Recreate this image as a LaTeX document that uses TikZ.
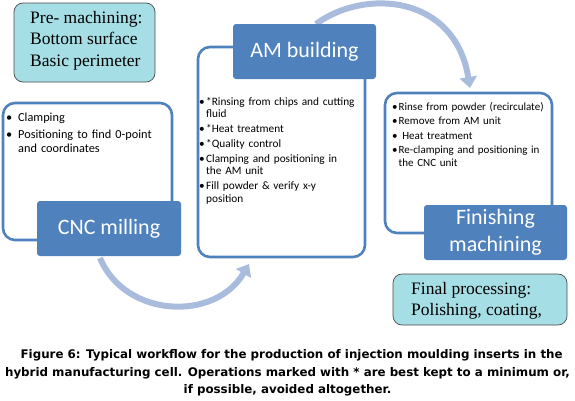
\documentclass[tikz,border=0pt]{standalone}
\usepackage{fontspec}
\setmainfont{Carlito}
\newfontfamily\timesf{Liberation Serif}
\newfontfamily\capf{DejaVu Sans}
\usetikzlibrary{arrows.meta}
\definecolor{boxblue}{HTML}{4F81BD}
\definecolor{arrowblue}{HTML}{A9BCDE}
\definecolor{cyanfill}{HTML}{A6DEE6}
\definecolor{cyanline}{HTML}{4A4A4A}
\newcommand\bitem[2][0pt]{\par\hangindent=#1\hangafter=1\noindent\makebox[#1][l]{\textbullet}#2\par}
\newcommand\brk{\hfil\break}
\tikzset{
  frame/.style={draw=boxblue, line width=2.6pt, rounded corners=12pt, fill=white},
  stage/.style={fill=boxblue, rounded corners=3pt, text=white, font=\fontsize{22}{27}\selectfont, align=center, inner sep=0pt},
  note/.style={fill=cyanfill, draw=cyanline, line width=0.7pt, rounded corners=9pt},
  notetext/.style={font=\timesf\fontsize{17.5}{21.5}\selectfont, align=left, anchor=north west, inner sep=0pt},
  bullets/.style={anchor=north west, inner sep=0pt, text width=175pt, align=left},
  flow/.style={draw=arrowblue, line width=6pt, -{Triangle[length=11pt,width=17pt]}},
}
\begin{document}
\begin{tikzpicture}[x=1pt,y=-1pt]
\useasboundingbox (0,0) rectangle (575,400);
% flow arrows
\coordinate (a1s) at (100,258);
\coordinate (a1e) at (249,264);
\draw[flow] (a1s) .. controls (125,318) and (215,322) .. (a1e);
\coordinate (a2s) at (316,24);
\coordinate (a2e) at (470,88);
\draw[flow] (a2s) .. controls (365,-12) and (455,-5) .. (a2e);
% pre-machining note
\path[note] (14,3) rectangle (155,82);
\node[notetext] (pre) at (30,11) {Pre- machining:\\Bottom surface\\Basic perimeter};
% CNC frame
\path[frame] (3,103) rectangle (172,240);
\node[bullets, font=\fontsize{12.3}{14}\selectfont] (cnclist) at (6,107.5)
  {\bitem[12pt]{Clamping}\vspace{2.8pt}\bitem[12pt]{Positioning to find 0-point\brk and coordinates}};
\node[stage, minimum width=144pt, minimum height=55pt] (cnc) at (109,228.5) {CNC milling};
% AM frame
\path[frame] (198,47) rectangle (365,257);
\node[bullets, font=\fontsize{11.3}{12.3}\selectfont] (amlist) at (199,93)
  {\bitem[7pt]{*Rinsing from chips and cutting\brk fluid}\vspace{2.6pt}%
   \bitem[7pt]{*Heat treatment}\vspace{2.6pt}%
   \bitem[7pt]{*Quality control}\vspace{2.6pt}%
   \bitem[7pt]{Clamping and positioning in\brk the AM unit}\vspace{2.6pt}%
   \bitem[7pt]{Fill powder \& verify x-y\brk position}};
\node[stage, minimum width=143pt, minimum height=55pt] (am) at (304.5,51.5) {AM building};
% Finishing frame
\path[frame] (385,93) rectangle (552,233);
\node[bullets, font=\fontsize{11}{12.3}\selectfont] (finlist) at (392,97.5)
  {\bitem[6.5pt]{Rinse from powder (recirculate)}\vspace{2.3pt}%
   \bitem[6.5pt]{Remove from AM unit}\vspace{2.3pt}%
   \bitem[6.5pt]{\ Heat treatment}\vspace{2.3pt}%
   \bitem[6.5pt]{Re-clamping and positioning in\brk the CNC unit}};
\node[stage, minimum width=143pt, minimum height=55pt] (fin) at (495.5,232.5) {Finishing\\machining};
% final processing note
\path[note] (393,274) rectangle (567,325);
\node[notetext] (final) at (411,282) {Final processing:\\Polishing, coating,};
% caption
\node[font=\capf\bfseries\fontsize{11.85}{17.3}\selectfont, align=center, inner sep=0pt] (cap) at (287.5,373)
  {\ \ Figure 6: Typical workflow for the production of injection moulding inserts in the\\
   hybrid manufacturing cell. Operations marked with * are best kept to a minimum or,\\
   if possible, avoided altogether.};
\end{tikzpicture}
\end{document}
